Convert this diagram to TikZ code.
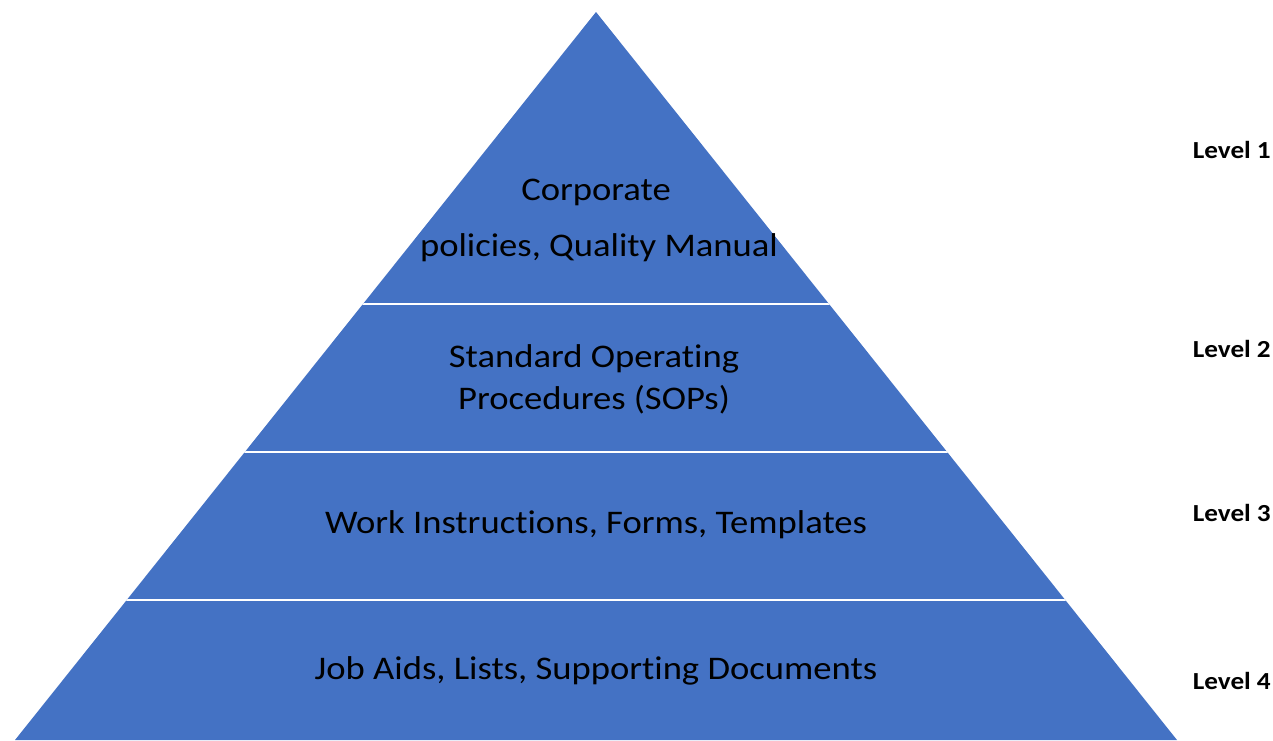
\documentclass[tikz,border=0pt]{standalone}
\usepackage{fontspec}
\setmainfont{Carlito}
\newfontfamily\tierfont[FakeStretch=1.11,Ligatures=NoCommon]{Carlito}
\definecolor{tierblue}{HTML}{4472C4}
\begin{document}
\begin{tikzpicture}[x=1pt,y=-1pt,
  tiertext/.style={font=\tierfont\fontsize{33}{40}\selectfont, text=black, inner sep=0pt, anchor=center},
  levellabel/.style={font=\tierfont\fontsize{24.5}{28}\selectfont\bfseries, text=black, inner sep=0pt, anchor=east},
  divider/.style={white, line width=2pt}]
\useasboundingbox (0,0) rectangle (1273,740);
% pyramid body
\coordinate (apex) at (596,12);
\coordinate (bl) at (15,740);
\coordinate (br) at (1177,740);
\fill[tierblue] (apex) -- (br) -- (bl) -- cycle;
% tier dividers, clipped to the pyramid
\begin{scope}
  \clip (apex) -- (br) -- (bl) -- cycle;
  \draw[divider] (0,303.5) -- (1273,303.5);
  \draw[divider] (0,452) -- (1273,452);
  \draw[divider] (0,599.5) -- (1273,599.5);
\end{scope}
% tier texts
\node[tiertext] (t1a) at (596,192) {Corporate};
\node[tiertext] (t1b) at (599,248) {policies, Quality Manual};
\node[tiertext] (t2a) at (594,359) {Standard Operating};
\node[tiertext] (t2b) at (594,400) {Procedures (SOPs)};
\node[tiertext] (t3) at (596,525) {Work Instructions, Forms, Templates};
\node[tiertext] (t4) at (596,671) {Job Aids, Lists, Supporting Documents};
% level labels
\node[levellabel] (l1) at (1271,150) {Level 1};
\node[levellabel] (l2) at (1271,349) {Level 2};
\node[levellabel] (l3) at (1271,513) {Level 3};
\node[levellabel] (l4) at (1271,681) {Level 4};
\end{tikzpicture}
\end{document}
